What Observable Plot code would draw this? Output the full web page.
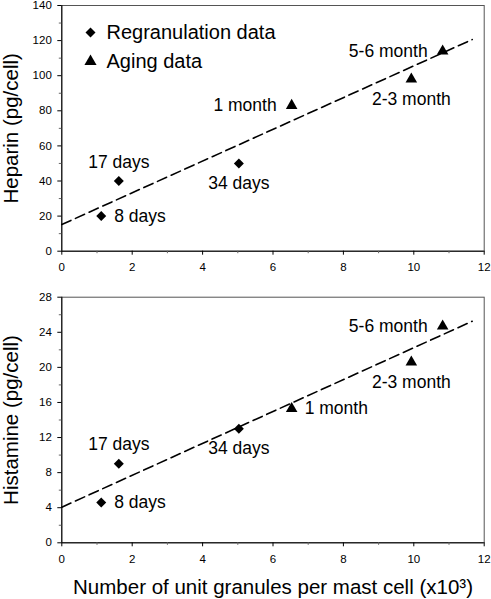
<!DOCTYPE html>
<html>
<head>
<meta charset="utf-8">
<script src="https://cdn.jsdelivr.net/npm/d3@7"></script>
<script src="https://cdn.jsdelivr.net/npm/@observablehq/plot@0.6"></script>
<style>
  html, body { margin: 0; padding: 0; background: #fff; }
  #chart svg { display: block; }
</style>
</head>
<body>
<div id="chart"></div>
<script>
// ---- data ----
const labels = ["8 days", "17 days", "34 days", "1 month", "2-3 month", "5-6 month"];
const groups = ["Regranulation data", "Regranulation data", "Regranulation data", "Aging data", "Aging data", "Aging data"];
const granules = [1.12, 1.62, 5.03, 6.53, 9.93, 10.82];          // x10^3 per mast cell
const heparin = [20, 40, 50, 83, 98, 114];                          // pg/cell
const histamine = [4.6, 9.0, 13.0, 15.3, 20.6, 24.7];               // pg/cell
const fitX = [0, 11.66];
const heparinFit = [15.2, 120.6];
const histamineFit = [4.06, 25.26];
const heparinLabelPlace = ["right", "above", "below", "left", "below", "left"];
const histamineLabelPlace = ["right", "above", "below", "right", "below", "left"];
const xTicks = [0, 2, 4, 6, 8, 10, 12];
const xMinor = [1, 3, 5, 7, 9, 11];
const heparinTicks = [0, 20, 40, 60, 80, 100, 120, 140];
const heparinMinor = [10, 30, 50, 70, 90, 110, 130];
const histamineTicks = [0, 4, 8, 12, 16, 20, 24, 28];
const histamineMinor = [2, 6, 10, 14, 18, 22, 26];
const legendItems = ["Regranulation data", "Aging data"];

const FONT = "'Liberation Sans', Arial, Helvetica, sans-serif";
const symbolOf = g => g === "Aging data" ? "triangle" : "diamond2";

function panel({values, fit, place, yDomain, yTicks, yMinor, yLabel, height, marginTop, marginBottom, legend, xLabel}) {
  const pts = labels.map((l, i) => ({label: l, group: groups[i], x: granules[i], y: values[i], place: place[i]}));
  const line = fitX.map((x, i) => ({x, y: fit[i]}));
  const offs = {
    right: {dx: 13, dy: 0, textAnchor: "start"},
    left: {dx: -15, dy: 0, textAnchor: "end"},
    above: {dx: 0, dy: -19, textAnchor: "middle"},
    below: {dx: 0, dy: 20, textAnchor: "middle"}
  };
  const labelMarks = Object.entries(offs).map(([k, o]) =>
    Plot.text(pts.filter(d => d.place === k), {x: "x", y: "y", text: "label", ...o, lineAnchor: "middle", fontSize: 17.5, fill: "black"}));
  const marks = [
    Plot.frame({stroke: "#555", strokeWidth: 1}),
    Plot.ruleX([0], {stroke: "black", strokeWidth: 1}),
    Plot.ruleY([yDomain[0]], {stroke: "black", strokeWidth: 1}),
    Plot.axisX(xTicks, {tickSize: 4, tickPadding: 8, label: null, fontSize: 11.5}),
    Plot.axisX(xMinor, {tickSize: 2.5, tickFormat: () => "", label: null, stroke: "#666"}),
    Plot.axisY(yTicks, {tickSize: 4, tickPadding: 6, label: null, fontSize: 11.5}),
    Plot.axisY(yMinor, {tickSize: 2.5, tickFormat: () => "", label: null, stroke: "#666"}),
    Plot.line(line, {x: "x", y: "y", stroke: "black", strokeWidth: 1.6, strokeDasharray: "10,5"}),
    Plot.dot(pts.filter(d => d.group === "Regranulation data"), {x: "x", y: "y", symbol: "diamond2", r: 4.5, fill: "black", stroke: "none"}),
    Plot.dot(pts.filter(d => d.group === "Aging data"), {x: "x", y: "y", symbol: "triangle", r: 4.3, fill: "black", stroke: "none"}),
    ...labelMarks,
    Plot.text([yLabel], {frameAnchor: "left", dx: -50, rotate: -90, textAnchor: "middle", lineAnchor: "middle", fontSize: 20.5, fill: "black"})
  ];
  if (legend) {
    legendItems.forEach((g, i) => {
      marks.push(Plot.dot([g], {frameAnchor: "top-left", dx: 28.7, dy: 27 + i * 29, symbol: symbolOf(g), r: 4.5, fill: "black", stroke: "none"}));
      marks.push(Plot.text([g], {frameAnchor: "top-left", dx: 44.7, dy: 27 + i * 29, textAnchor: "start", lineAnchor: "middle", fontSize: 20, fill: "black"}));
    });
  }
  if (xLabel) {
    marks.push(Plot.text([xLabel], {frameAnchor: "bottom", dy: 44.4, textAnchor: "middle", lineAnchor: "middle", fontSize: 20.5, fill: "black"}));
  }
  return Plot.plot({
    width: 491,
    height,
    marginTop,
    marginBottom,
    marginLeft: 61.3,
    marginRight: 7.3,
    style: {fontFamily: FONT, fontSize: "12px", color: "black", background: "white"},
    x: {domain: [0, 12]},
    y: {domain: yDomain},
    marks
  });
}

const chart = document.getElementById("chart");
chart.appendChild(panel({
  values: heparin, fit: heparinFit, place: heparinLabelPlace,
  yDomain: [0, 140], yTicks: heparinTicks, yMinor: heparinMinor,
  yLabel: "Heparin (pg/cell)", height: 290, marginTop: 5, marginBottom: 39.3, legend: true
}));
chart.appendChild(panel({
  values: histamine, fit: histamineFit, place: histamineLabelPlace,
  yDomain: [0, 28], yTicks: histamineTicks, yMinor: histamineMinor,
  yLabel: "Histamine (pg/cell)", height: 309, marginTop: 6.7, marginBottom: 56.7,
  xLabel: "Number of unit granules per mast cell (x10³)"
}));
</script>
</body>
</html>
